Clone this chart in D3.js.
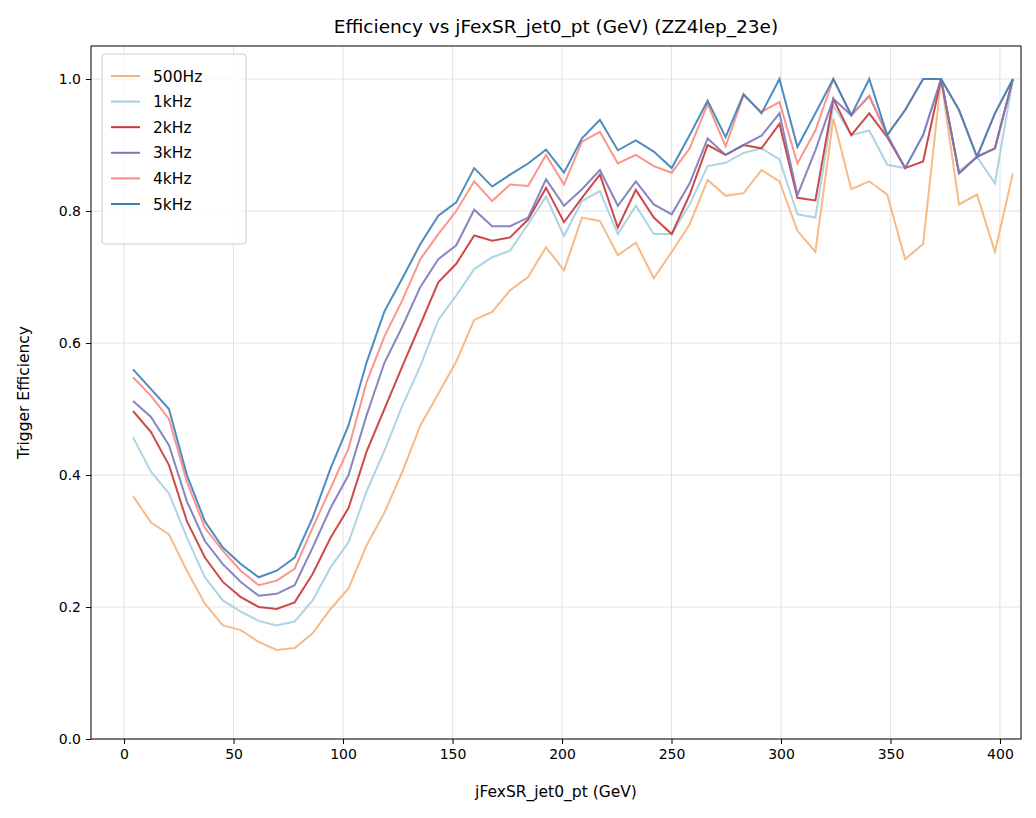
<!DOCTYPE html>
<html>
<head>
<script src="https://d3js.org/d3.v7.min.js"></script>
<style>
  body { margin: 0; background: #fff; }
  text { font-family: "DejaVu Sans", sans-serif; fill: #000; }
  .grid line { stroke: #b0b0b0; stroke-opacity: 0.35; stroke-width: 1px; }
  .line { fill: none; stroke-width: 2px; }
</style>
</head>
<body>
<script>
// bin centres (GeV)
var xs = [4.1, 12.3, 20.5, 28.7, 36.9, 45.1, 53.3, 61.5, 69.7, 77.9,
  86.1, 94.3, 102.5, 110.7, 118.9, 127.1, 135.3, 143.5, 151.7, 159.9,
  168.1, 176.3, 184.5, 192.7, 200.9, 209.1, 217.3, 225.5, 233.7, 241.9,
  250.1, 258.3, 266.5, 274.7, 282.9, 291.1, 299.3, 307.5, 315.7, 323.9,
  332.1, 340.3, 348.5, 356.7, 364.9, 373.1, 381.3, 389.5, 397.7, 405.9];

var seriesNames = ["500Hz", "1kHz", "2kHz", "3kHz", "4kHz", "5kHz"];
var seriesColors = ["#f5b27a", "#a3cfe0", "#c93535", "#7b78b9", "#fb8a80", "#3a80b9"];

var eff500 = [0.368, 0.328, 0.31, 0.255, 0.205, 0.172, 0.165, 0.147, 0.135, 0.138,
  0.16, 0.197, 0.228, 0.293, 0.343, 0.405, 0.475, 0.523, 0.572, 0.635,
  0.647, 0.68, 0.7, 0.745, 0.71, 0.79, 0.785, 0.733, 0.752, 0.698,
  0.738, 0.78, 0.847, 0.823, 0.827, 0.862, 0.845, 0.77, 0.738, 0.94,
  0.833, 0.845, 0.825, 0.727, 0.75, 1.0, 0.81, 0.825, 0.738, 0.857];
var eff1k = [0.457, 0.405, 0.372, 0.305, 0.245, 0.21, 0.193, 0.179, 0.172, 0.178,
  0.21, 0.26, 0.298, 0.375, 0.437, 0.505, 0.565, 0.635, 0.672, 0.712,
  0.73, 0.74, 0.78, 0.822, 0.762, 0.815, 0.83, 0.765, 0.808, 0.765,
  0.765, 0.81, 0.868, 0.873, 0.888, 0.895, 0.878, 0.795, 0.79, 0.96,
  0.915, 0.922, 0.87, 0.865, 0.915, 1.0, 0.86, 0.882, 0.842, 1.0];
var eff2k = [0.497, 0.465, 0.415, 0.33, 0.275, 0.238, 0.215, 0.2, 0.197, 0.207,
  0.25, 0.305, 0.35, 0.435, 0.5, 0.565, 0.628, 0.692, 0.72, 0.763,
  0.755, 0.76, 0.787, 0.835, 0.783, 0.82, 0.855, 0.775, 0.832, 0.79,
  0.765, 0.825, 0.9, 0.885, 0.9, 0.895, 0.932, 0.82, 0.816, 0.97,
  0.915, 0.948, 0.912, 0.865, 0.875, 1.0, 0.857, 0.882, 0.895, 1.0];
var eff3k = [0.512, 0.488, 0.445, 0.36, 0.30, 0.265, 0.238, 0.217, 0.22, 0.233,
  0.29, 0.35, 0.40, 0.49, 0.57, 0.625, 0.685, 0.727, 0.748, 0.802,
  0.777, 0.777, 0.79, 0.848, 0.808, 0.833, 0.862, 0.808, 0.845, 0.81,
  0.795, 0.842, 0.91, 0.885, 0.9, 0.914, 0.948, 0.824, 0.892, 0.97,
  0.945, 0.974, 0.915, 0.865, 0.915, 1.0, 0.857, 0.882, 0.895, 1.0];
var eff4k = [0.548, 0.52, 0.485, 0.39, 0.32, 0.285, 0.255, 0.233, 0.24, 0.258,
  0.32, 0.38, 0.44, 0.54, 0.61, 0.665, 0.727, 0.765, 0.8, 0.845,
  0.815, 0.84, 0.838, 0.885, 0.84, 0.905, 0.92, 0.872, 0.885, 0.868,
  0.858, 0.895, 0.962, 0.898, 0.975, 0.95, 0.965, 0.872, 0.922, 1.0,
  0.945, 0.975, 0.915, 0.953, 1.0, 1.0, 0.953, 0.882, 0.948, 1.0];
var eff5k = [0.56, 0.53, 0.50, 0.40, 0.33, 0.29, 0.265, 0.245, 0.255, 0.275,
  0.335, 0.41, 0.475, 0.57, 0.648, 0.698, 0.75, 0.793, 0.813, 0.865,
  0.837, 0.855, 0.872, 0.893, 0.858, 0.91, 0.938, 0.892, 0.907, 0.89,
  0.865, 0.915, 0.967, 0.912, 0.977, 0.948, 1.0, 0.897, 0.948, 1.0,
  0.945, 1.0, 0.915, 0.953, 1.0, 1.0, 0.953, 0.882, 0.948, 1.0];
var allSeries = [eff500, eff1k, eff2k, eff3k, eff4k, eff5k];

var xTicks = [0, 50, 100, 150, 200, 250, 300, 350, 400];
var yTicks = [0.0, 0.2, 0.4, 0.6, 0.8, 1.0];

var W = 1036, H = 818;
var margin = {top: 46, right: 15, bottom: 79, left: 91};
var width = W - margin.left - margin.right,
    height = H - margin.top - margin.bottom;

var svg = d3.select("body").append("svg")
    .attr("width", W).attr("height", H);
var g = svg.append("g")
    .attr("transform", "translate(" + margin.left + "," + margin.top + ")");

var x_scale = d3.scaleLinear().domain([-15.1, 409.6]).range([0, width]);
var y_scale = d3.scaleLinear().domain([0, 1.05]).range([height, 0]);

// grid
var grid = g.append("g").attr("class", "grid");
grid.selectAll(".gx").data(xTicks).enter().append("line")
    .attr("x1", function(d) { return x_scale(d); }).attr("x2", function(d) { return x_scale(d); })
    .attr("y1", 0).attr("y2", height);
grid.selectAll(".gy").data(yTicks).enter().append("line")
    .attr("y1", function(d) { return y_scale(d); }).attr("y2", function(d) { return y_scale(d); })
    .attr("x1", 0).attr("x2", width);

var valueline = d3.line()
    .x(function(d, i) { return x_scale(xs[i]); })
    .y(function(d) { return y_scale(d); });

allSeries.forEach(function(s, k) {
  g.append("path")
    .attr("class", "line")
    .attr("stroke", seriesColors[k])
    .attr("stroke-opacity", 0.9)
    .attr("d", valueline(s));
});

// axes
var x_axis = d3.axisBottom(x_scale).tickValues(xTicks).tickSize(5).tickPadding(5);
var y_axis = d3.axisLeft(y_scale).tickValues(yTicks).tickSize(5).tickPadding(5)
    .tickFormat(d3.format(".1f"));
var gx = g.append("g").attr("transform", "translate(0," + height + ")").call(x_axis);
var gy = g.append("g").call(y_axis);
[gx, gy].forEach(function(a) {
  a.selectAll("text").style("font-size", "14px").style("font-family", "DejaVu Sans");
  a.select(".domain").remove();
  a.selectAll("line").attr("stroke", "#000");
});
g.append("rect").attr("width", width).attr("height", height)
    .attr("fill", "none").attr("stroke", "#000").attr("stroke-width", 1);

svg.append("text").attr("x", margin.left + width / 2).attr("y", 33)
    .attr("text-anchor", "middle").style("font-size", "18.5px")
    .text("Efficiency vs jFexSR_jet0_pt (GeV) (ZZ4lep_23e)");
svg.append("text").attr("x", margin.left + width / 2).attr("y", 797)
    .attr("text-anchor", "middle").style("font-size", "15.5px")
    .text("jFexSR_jet0_pt (GeV)");
svg.append("text").attr("transform", "translate(29," + (margin.top + height / 2) + ") rotate(-90)")
    .attr("text-anchor", "middle").style("font-size", "15.5px")
    .text("Trigger Efficiency");

// legend
var leg = g.append("g").attr("transform", "translate(11,8)");
leg.append("rect").attr("width", 144).attr("height", 190).attr("rx", 3)
    .attr("fill", "#fff").attr("fill-opacity", 0.8).attr("stroke", "#ccc");
seriesNames.forEach(function(n, k) {
  var yy = 22 + k * 25.6;
  leg.append("line").attr("x1", 9).attr("x2", 38).attr("y1", yy).attr("y2", yy)
    .attr("stroke", seriesColors[k]).attr("stroke-width", 2);
  leg.append("text").attr("x", 51).attr("y", yy + 5.5).style("font-size", "15.5px").text(n);
});
</script>
</body>
</html>
